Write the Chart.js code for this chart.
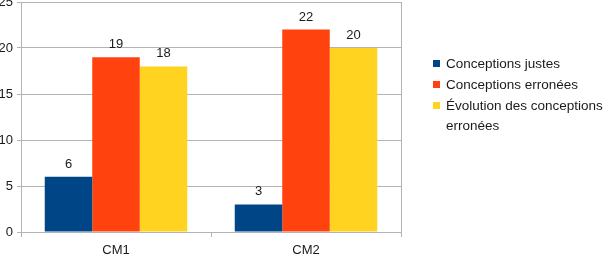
<!DOCTYPE html>
<html>
<head>
<meta charset="utf-8">
<script src="https://cdn.jsdelivr.net/npm/chart.js@4/dist/chart.umd.min.js"></script>
<style>
  body { margin: 0; background: #fff; font-family: "Liberation Sans", Arial, sans-serif; }
  #wrap { position: relative; width: 610px; height: 269px; overflow: hidden; }
  #chart { display: block; margin-top: -10px; }
  #legend { position: absolute; left: 433px; top: 54px; font-size: 13.5px; color: #1a1a1a; }
  #legend .item { display: flex; align-items: flex-start; line-height: 20px; margin-bottom: 1px; }
  #legend .box { width: 7px; height: 7px; margin-top: 6px; margin-right: 6px; flex: none; }
  #legend .txt { max-width: 164px; }
</style>
</head>
<body>
<div id="wrap">
  <canvas id="chart" width="610" height="279"></canvas>
  <div id="legend"></div>
</div>
<script>
// chart data
const categories = ['CM1', 'CM2'];
const seriesNames = ['Conceptions justes', 'Conceptions erronées', 'Évolution des conceptions erronées'];
const justes = [6, 3];
const erronees = [19, 22];
const evolution = [18, 20];
const yTicks = [0, 5, 10, 15, 20, 25];

const colors = ['#004586', '#ff420e', '#ffd320'];
const gridColor = '#b3b3b3';

// value labels above each bar
const valueLabels = {
    id: 'valueLabels',
    afterDatasetsDraw(chart) {
        const c = chart.ctx;
        c.save();
        c.font = '13px "Liberation Sans", Arial, sans-serif';
        c.fillStyle = '#1a1a1a';
        c.textAlign = 'center';
        c.textBaseline = 'bottom';
        chart.data.datasets.forEach((ds, i) => {
            chart.getDatasetMeta(i).data.forEach((bar, j) => {
                c.fillText(ds.data[j], bar.x, bar.y - 6);
            });
        });
        c.restore();
    }
};

// right edge of the plot box
const rightBorder = {
    id: 'rightBorder',
    beforeDatasetsDraw(chart) {
        const a = chart.chartArea;
        const c = chart.ctx;
        c.save();
        c.strokeStyle = gridColor;
        c.lineWidth = 1;
        c.beginPath();
        c.moveTo(Math.round(a.right) + 0.5, a.top);
        c.lineTo(Math.round(a.right) + 0.5, a.bottom);
        c.stroke();
        c.restore();
    }
};

const datasets = [justes, erronees, evolution].map((d, i) => ({
    label: seriesNames[i],
    data: d,
    backgroundColor: colors[i],
    borderWidth: 0
}));

const ctx = document.getElementById('chart').getContext('2d');
const chart = new Chart(ctx, {
    type: 'bar',
    data: { labels: categories, datasets: datasets },
    plugins: [valueLabels, rightBorder],
    options: {
        responsive: false,
        animation: false,
        layout: { padding: { top: 12, right: 209, left: 0, bottom: 0 } },
        plugins: {
            legend: { display: false },
            tooltip: { enabled: false }
        },
        datasets: { bar: { categoryPercentage: 0.75, barPercentage: 1 } },
        scales: {
            x: {
                grid: { offset: true, drawOnChartArea: false, color: gridColor, tickLength: 5 },
                border: { color: gridColor },
                ticks: { color: '#1a1a1a', font: { family: '"Liberation Sans", Arial, sans-serif', size: 13 }, padding: 6 },
                afterFit: s => { s.height = 37; }
            },
            y: {
                min: 0,
                max: 25,
                afterBuildTicks: s => { s.ticks = yTicks.map(v => ({ value: v })); },
                grid: { color: gridColor, tickLength: 4 },
                border: { color: gridColor },
                ticks: { color: '#1a1a1a', font: { family: '"Liberation Sans", Arial, sans-serif', size: 13 }, padding: 4 },
                afterFit: s => { s.width = 21; }
            }
        }
    }
});

// legend built from the datasets
const legend = document.getElementById('legend');
chart.data.datasets.forEach(ds => {
    const item = document.createElement('div');
    item.className = 'item';
    item.innerHTML = '<span class="box" style="background:' + ds.backgroundColor + '"></span><span class="txt">' + ds.label + '</span>';
    legend.appendChild(item);
});
</script>
</body>
</html>
